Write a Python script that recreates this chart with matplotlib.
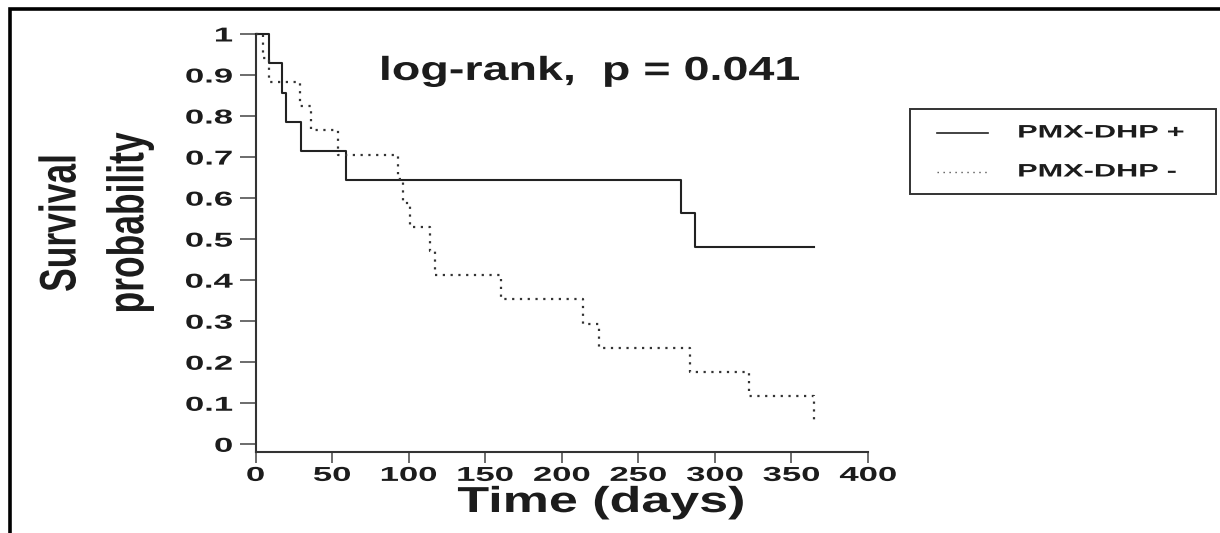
import matplotlib
matplotlib.use("Agg")
import matplotlib.pyplot as plt
from matplotlib.lines import Line2D
from matplotlib.patches import Rectangle
from matplotlib.patheffects import AbstractPathEffect
from matplotlib.transforms import Affine2D

# Kaplan-Meier steps: day of each event and survival right after it
days_pos = [0, 9, 17, 20, 30, 59, 278, 287, 365]
surv_pos = [1.0, 0.929, 0.857, 0.786, 0.714, 0.643, 0.563, 0.482, 0.482]

days_neg = [0, 5, 9, 29, 36, 54, 93, 96, 101, 114, 117, 160, 214, 224, 284, 322, 365]
surv_neg = [1.0, 0.941, 0.882, 0.824, 0.765, 0.706, 0.647, 0.588, 0.529,
            0.471, 0.412, 0.353, 0.294, 0.235, 0.176, 0.118, 0.059]

group_labels = ["PMX-DHP +", "PMX-DHP -"]
x_ticks = [0, 50, 100, 150, 200, 250, 300, 350, 400]
y_ticks = [0, 0.1, 0.2, 0.3, 0.4, 0.5, 0.6, 0.7, 0.8, 0.9, 1.0]
y_tick_labels = ["0", "0.1", "0.2", "0.3", "0.4", "0.5", "0.6", "0.7", "0.8", "0.9", "1"]
stat_text = "log-rank,  p = 0.041"

W, H = 1220, 533
INK = "#1c1c1c"

plt.rcParams["font.family"] = ["Liberation Sans", "DejaVu Sans"]
plt.rcParams["font.weight"] = "bold"
plt.rcParams["axes.labelweight"] = "bold"


class Widen(AbstractPathEffect):
    """Stretch glyph outlines about a pivot on each text line (wide, heavy look)."""

    def __init__(self, sx=1.0, sy=1.0, px=0.5):
        super().__init__()
        self.sx, self.sy, self.px = sx, sy, px

    def draw_path(self, renderer, gc, tpath, affine, rgbFace=None):
        ext = tpath.get_extents()
        cx = ext.x0 + self.px * ext.width
        cy = 0.5 * (ext.y0 + ext.y1)
        st = Affine2D().translate(-cx, -cy).scale(self.sx, self.sy).translate(cx, cy)
        renderer.draw_path(gc, tpath, st + affine, rgbFace)


def fx(px):
    return px / W


def fy(py):
    return 1 - py / H


fig = plt.figure(figsize=(W / 100, H / 100), dpi=100)
# the x axis line sits a little below y = 0
ax = fig.add_axes([fx(255.5), fy(452), fx(868) - fx(255.5), fy(34) - fy(452)])

ax.plot(days_pos, surv_pos, drawstyle="steps-post", color="#222222",
        lw=1.5, clip_on=False, zorder=3)
ax.plot(days_neg, surv_neg, drawstyle="steps-post", color="#333333",
        lw=1.6, ls=(0, (1, 2.5)), clip_on=False, zorder=3)

ax.set_xlim(0, 400)
ax.set_ylim(-0.0188, 1)
for side in ("top", "right"):
    ax.spines[side].set_visible(False)
for side in ("left", "bottom"):
    ax.spines[side].set_linewidth(1.5)
    ax.spines[side].set_color("#333333")

ax.set_xticks(x_ticks)
ax.set_yticks(y_ticks, y_tick_labels)
ax.tick_params(axis="y", length=11.5, width=1.1, color="#444444", pad=5,
               labelsize=14.5, labelcolor=INK)
ax.tick_params(axis="x", length=8, width=1.1, color="#444444", pad=2,
               labelsize=14.5, labelcolor=INK)
for lab in ax.get_yticklabels():
    lab.set_path_effects([Widen(1.72, 1.0, 1.0)])
for lab in ax.get_xticklabels():
    lab.set_path_effects([Widen(1.72, 1.0, 0.5)])

ax.set_xlabel("Time (days)", fontsize=26, color=INK,
              path_effects=[Widen(1.44, 1.0, 0.5)])
ax.xaxis.label.set_va("baseline")
ax.xaxis.set_label_coords((601 - 255.5) / 612.5, -(512 - 452) / 418)

ax.set_ylabel("Survival\nprobability", fontsize=25.5, color=INK, linespacing=2.4,
              path_effects=[Widen(1.0, 1.45, 0.5)])
ax.yaxis.label.set_va("center")
ax.yaxis.set_label_coords((95 - 255.5) / 612.5, (452 - 223) / 418)

ax.text(218.6, 0.888, stat_text, ha="center", va="baseline", fontsize=24,
        color=INK, path_effects=[Widen(1.40, 1.0, 0.5)])

# legend box drawn by hand to the right of the plot
fig.add_artist(Rectangle((fx(910), fy(194)), fx(1216) - fx(910), fy(109) - fy(194),
                         fill=False, edgecolor="#333333", lw=1.4))
fig.add_artist(Line2D([fx(937), fx(988)], [fy(133), fy(133)],
                      color="#222222", lw=1.2))
fig.add_artist(Line2D([fx(937), fx(988)], [fy(172), fy(172)],
                      color="#555555", lw=1.0, ls=(0, (1, 3.3))))
for row_y, lab in zip((133, 172), group_labels):
    fig.text(fx(1018), fy(row_y), lab, ha="left", va="center", fontsize=13,
             color=INK, path_effects=[Widen(1.7, 1.0, 0.0)])

# outer frame (top and left edges)
fig.add_artist(Line2D([fx(9.5), fx(9.5), 1.0], [0.0, fy(9), fy(9)],
                      color="black", lw=2.6, solid_joinstyle="miter"))

fig.savefig("out.png", dpi=100)
